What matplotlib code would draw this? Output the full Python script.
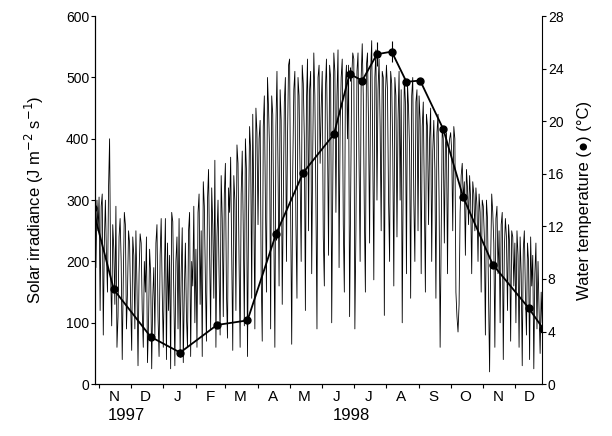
import numpy as np
import pandas as pd
import matplotlib
matplotlib.use("Agg")
import matplotlib.pyplot as plt
import matplotlib.dates as mdates
import matplotlib.transforms as mtransforms

plt.rcParams['font.family'] = ['Liberation Sans', 'DejaVu Sans']

# daily solar irradiance (J m-2 s-1), one list per month
irr_months = [
    ('1997-10-28', [280, 190, 300, 250]),
    ('1997-11-01', [305, 120, 290, 310, 80, 230, 300, 210, 150, 320, 400, 180, 95, 260, 220,
                    130, 290, 60, 110, 240, 270, 200, 40, 170, 280, 260, 90, 150, 250, 230]),
    ('1997-12-01', [130, 55, 240, 210, 90, 250, 160, 30, 180, 245, 230, 120, 60, 200, 150, 240,
                    35, 100, 220, 180, 25, 140, 190, 80, 230, 260, 110, 45, 210, 270, 150]),
    ('1998-01-01', [60, 180, 270, 40, 230, 120, 210, 25, 280, 265, 150, 30, 200, 240, 90, 270,
                    50, 180, 255, 35, 150, 230, 110, 60, 250, 280, 45, 200, 160, 290, 100]),
    ('1998-02-01', [220, 60, 280, 310, 130, 250, 45, 330, 290, 170, 70, 300, 350, 210, 90, 320,
                    260, 140, 365, 60, 240, 300, 180, 80, 340, 270, 110, 310]),
    ('1998-03-01', [360, 150, 75, 320, 280, 370, 210, 55, 340, 300, 120, 390, 360, 200, 60, 310,
                    380, 250, 95, 400, 350, 45, 270, 420, 380, 140, 440, 300, 90, 450, 410]),
    ('1998-04-01', [260, 400, 430, 180, 70, 420, 470, 300, 150, 500, 450, 380, 90, 470, 440, 240,
                    60, 420, 510, 350, 160, 480, 430, 130, 300, 460, 500, 200, 400, 520]),
    ('1998-05-01', [530, 280, 65, 350, 480, 510, 260, 140, 500, 470, 330, 200, 520, 490, 400, 120,
                    460, 530, 250, 480, 510, 180, 380, 540, 470, 300, 90, 500, 520, 360, 450]),
    ('1998-06-01', [510, 240, 160, 480, 530, 400, 210, 520, 500, 100, 330, 540, 510, 280, 470, 545,
                    190, 420, 500, 530, 260, 150, 490, 520, 400, 520, 110, 300, 500, 540]),
    ('1998-07-01', [530, 90, 250, 510, 540, 360, 200, 500, 555, 470, 280, 150, 520, 540, 420, 230,
                    510, 560, 380, 170, 500, 545, 300, 480, 530, 420, 250, 510, 500, 112, 470]),
    ('1998-08-01', [520, 480, 300, 200, 510, 490, 380, 160, 500, 470, 240, 430, 510, 300, 480, 100,
                    350, 500, 460, 180, 490, 450, 380, 140, 470, 500, 300, 200, 460, 480, 250]),
    ('1998-09-01', [470, 430, 180, 420, 460, 310, 150, 440, 420, 260, 400, 450, 200, 380, 430, 350,
                    140, 410, 440, 300, 60, 250, 420, 400, 230, 390, 410, 180, 380, 400]),
    ('1998-10-01', [410, 380, 250, 420, 400, 150, 110, 85, 130, 280, 340, 360, 300, 330, 210, 350,
                    320, 260, 340, 300, 180, 330, 310, 250, 320, 290, 200, 310, 280, 150, 300]),
    ('1998-11-01', [290, 240, 80, 300, 270, 150, 20, 200, 310, 280, 230, 60, 270, 290, 180, 250,
                    100, 260, 280, 40, 220, 270, 240, 120, 260, 230, 70, 250, 240, 160]),
    ('1998-12-01', [230, 100, 250, 210, 60, 240, 180, 30, 220, 250, 150, 80, 230, 200, 40, 240,
                    160, 210, 25, 180, 230, 90, 200, 120, 50, 150, 100]),
]

# water temperature sampling (degC)
temp_dates = ['1997-10-26', '1997-11-15', '1997-12-20', '1998-01-17', '1998-02-21', '1998-03-22',
              '1998-04-18', '1998-05-14', '1998-06-12', '1998-06-27', '1998-07-09', '1998-07-23',
              '1998-08-06', '1998-08-20', '1998-09-02', '1998-09-24', '1998-10-13', '1998-11-10',
              '1998-12-14', '1998-12-28']
temp_vals = [13.4, 7.2, 3.6, 2.4, 4.5, 4.85, 11.4, 16.1, 19.0, 23.6, 23.1, 25.1,
             25.3, 23.0, 23.1, 19.4, 14.2, 9.1, 5.8, 4.2]
temp_err = [0, 0, 0, 0.3, 0, 0.4, 0.4, 0, 0, 0.5, 0, 0.9, 0.8, 0, 0, 0, 0, 0, 0, 0]

month_letters = ['N', 'D', 'J', 'F', 'M', 'A', 'M', 'J', 'J', 'A', 'S', 'O', 'N', 'D']

irr_dates = []
irr_vals = []
for start, vals in irr_months:
    irr_dates.extend(pd.date_range(start, periods=len(vals), freq='D'))
    irr_vals.extend(vals)

fig = plt.figure(figsize=(6.12, 4.36), dpi=100)
ax = fig.add_axes([0.155, 0.119, 0.731, 0.844])
ax.plot(irr_dates, irr_vals, color='black', lw=0.6)

ax.set_ylim(0, 600)
ax.set_yticks(range(0, 601, 100))
x0 = pd.Timestamp('1997-10-28')
x1 = pd.Timestamp('1998-12-27')
ax.set_xlim(x0, x1)

ax2 = ax.twinx()
td = pd.to_datetime(temp_dates)
ax2.errorbar(td, temp_vals, yerr=temp_err, color='black', lw=1.3, marker='o', ms=5,
             elinewidth=0.8, capsize=0)
ax2.set_ylim(0, 28)
ax2.set_yticks(range(0, 29, 4))
ax2.set_xlim(x0, x1)

for a in (ax, ax2):
    a.spines['top'].set_visible(False)
ax.spines['right'].set_visible(False)

ax.set_ylabel('Solar irradiance (J m$^{-2}$ s$^{-1}$)', fontsize=12, labelpad=14)
ax2.set_ylabel('Water temperature (\u25cf) (\u00b0C)', fontsize=12, labelpad=10)
ax.tick_params(axis='y', labelsize=10, length=3, pad=1)
ax2.tick_params(axis='y', labelsize=10, length=3, pad=1)

# month ticks at boundaries, letters at mid-month
ax.xaxis.set_major_locator(mdates.MonthLocator())
ax.xaxis.set_major_formatter(plt.NullFormatter())
ax.tick_params(axis='x', which='major', length=3)
mids = pd.date_range('1997-11-01', periods=len(month_letters), freq='MS') + pd.Timedelta(days=14)
ax.set_xticks(mids, minor=True)
ax.set_xticklabels(month_letters, minor=True, fontsize=11)
ax.tick_params(axis='x', which='minor', length=0, pad=4)

trans = mtransforms.blended_transform_factory(ax.transData, ax.transAxes)
ax.text(pd.Timestamp('1997-11-27'), -0.065, '1997', transform=trans, ha='center', va='top', fontsize=12)
ax.text(pd.Timestamp('1998-06-29'), -0.065, '1998', transform=trans, ha='center', va='top', fontsize=12)

fig.savefig('out.png', dpi=100)
